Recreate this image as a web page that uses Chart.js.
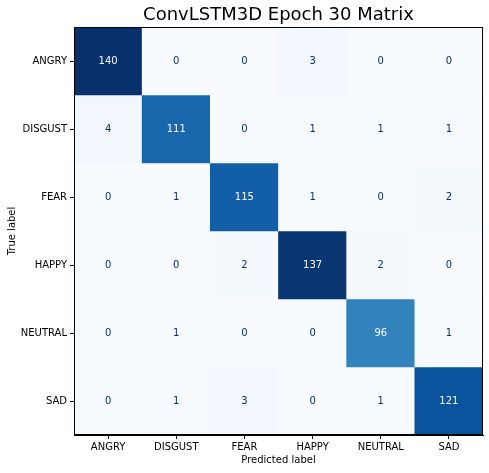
<!DOCTYPE html>
<html>
<head>
<meta charset="utf-8">
<script src="https://cdn.jsdelivr.net/npm/chart.js@4"></script>
<style>
  html, body { margin: 0; padding: 0; background: #fff; }
  #wrap { width: 489px; height: 473px; }
</style>
</head>
<body>
<div id="wrap"><canvas id="myChart"></canvas></div>
<script>
const trueLabels = ['ANGRY', 'DISGUST', 'FEAR', 'HAPPY', 'NEUTRAL', 'SAD'];
const predLabels = ['ANGRY', 'DISGUST', 'FEAR', 'HAPPY', 'NEUTRAL', 'SAD'];

const angryRow   = [140, 0, 0, 3, 0, 0];
const disgustRow = [4, 111, 0, 1, 1, 1];
const fearRow    = [0, 1, 115, 1, 0, 2];
const happyRow   = [0, 0, 2, 137, 2, 0];
const neutralRow = [0, 1, 0, 0, 96, 1];
const sadRow     = [0, 1, 3, 0, 1, 121];

const matrix = [angryRow, disgustRow, fearRow, happyRow, neutralRow, sadRow];

// matplotlib "Blues"
const bluesStops = [
    [247, 251, 255], [222, 235, 247], [198, 219, 239], [158, 202, 225], [107, 174, 214],
    [66, 146, 198], [33, 113, 181], [8, 81, 156], [8, 48, 107]
];

function blues(t) {
    t = Math.max(0, Math.min(1, t));
    const pos = t * (bluesStops.length - 1);
    const i = Math.min(Math.floor(pos), bluesStops.length - 2);
    const f = pos - i;
    const a = bluesStops[i], b = bluesStops[i + 1];
    const c = a.map((v, k) => Math.round(v + (b[k] - v) * f));
    return 'rgb(' + c.join(',') + ')';
}

const allValues = matrix.flat();
const vmin = Math.min(...allValues);
const vmax = Math.max(...allValues);
const threshold = (vmin + vmax) / 2;

Chart.defaults.font.family = 'DejaVu Sans, sans-serif';
Chart.defaults.font.size = 10;
Chart.defaults.color = '#000';

const datasets = matrix.map((row, r) => ({
    label: trueLabels[r],
    data: row.map(() => [r, r + 1]),
    backgroundColor: row.map(v => blues((v - vmin) / (vmax - vmin))),
    borderWidth: 0,
    barPercentage: 1.0,
    categoryPercentage: 1.0
}));

const cellText = {
    id: 'cellText',
    afterDatasetsDraw(chart) {
        const ctx = chart.ctx;
        ctx.save();
        ctx.font = '10px DejaVu Sans, sans-serif';
        ctx.textAlign = 'center';
        ctx.textBaseline = 'middle';
        chart.data.datasets.forEach((ds, r) => {
            const meta = chart.getDatasetMeta(r);
            meta.data.forEach((bar, c) => {
                const v = matrix[r][c];
                ctx.fillStyle = v > threshold ? blues(0) : blues(1);
                ctx.fillText(String(v), bar.x, (bar.y + bar.base) / 2);
            });
        });
        // frame around the image
        const a = chart.chartArea;
        ctx.strokeStyle = '#000';
        ctx.lineWidth = 1;
        ctx.strokeRect(Math.round(a.left) + 0.5, Math.round(a.top) + 0.5,
            Math.round(a.right - a.left) - 1, Math.round(a.bottom - a.top) - 1);
        // title over the plot
        ctx.fillStyle = '#000';
        ctx.font = '18px DejaVu Sans, sans-serif';
        ctx.textBaseline = 'middle';
        ctx.fillText('ConvLSTM3D Epoch 30 Matrix', (a.left + a.right) / 2, 15);
        ctx.restore();
    }
};

new Chart(document.getElementById('myChart').getContext('2d'), {
    type: 'bar',
    data: {
        labels: predLabels,
        datasets: datasets
    },
    options: {
        responsive: true,
        maintainAspectRatio: false,
        animation: false,
        events: [],
        layout: { padding: { top: 27, right: 6, left: 0, bottom: 0 } },
        plugins: {
            legend: { display: false },
            tooltip: { enabled: false }
        },
        scales: {
            x: {
                type: 'category',
                stacked: true,
                offset: true,
                afterFit(scale) { scale.height = 38; },
                grid: {
                    offset: false,
                    drawOnChartArea: false,
                    drawTicks: true,
                    tickLength: 4,
                    color: '#000'
                },
                border: { display: true, color: '#000' },
                ticks: { padding: 2, maxRotation: 0, autoSkip: false },
                title: {
                    display: true,
                    text: 'Predicted label',
                    padding: { top: 4, bottom: 7 }
                }
            },
            y: {
                type: 'linear',
                min: 0,
                max: trueLabels.length,
                reverse: true,
                afterFit(scale) { scale.width = 74; },
                afterBuildTicks(scale) {
                    scale.ticks = trueLabels.map((_, i) => ({ value: i + 0.5 }));
                },
                grid: {
                    drawOnChartArea: false,
                    drawTicks: true,
                    tickLength: 4,
                    color: '#000'
                },
                border: { display: true, color: '#000' },
                ticks: {
                    padding: 3,
                    autoSkip: false,
                    callback: (value) => trueLabels[Math.floor(value)]
                },
                title: {
                    display: true,
                    text: 'True label',
                    padding: { top: 6, bottom: 0 }
                }
            }
        }
    },
    plugins: [cellText]
});
</script>
</body>
</html>
